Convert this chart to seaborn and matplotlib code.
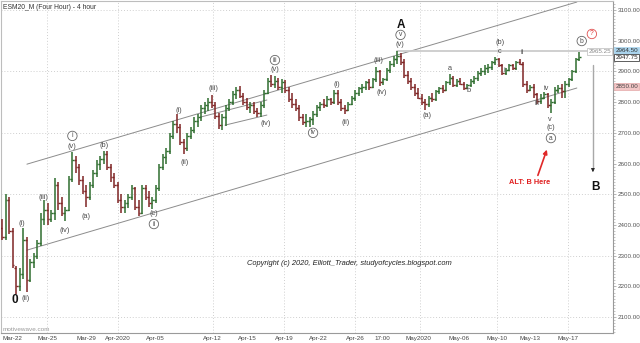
import matplotlib
matplotlib.use("Agg")
import matplotlib.pyplot as plt
import numpy as np
import pandas as pd
import seaborn as sns

# ---- ESM20 four-hour bars (price) ----
opens = [
    2390, 2360, 2480, 2380, 2260, 2200, 2240, 2350, 2220, 2280,
    2300, 2340, 2420, 2450, 2420, 2440, 2530, 2470, 2440, 2450,
    2550, 2610, 2590, 2545, 2510, 2490, 2530, 2570, 2600, 2615,
    2630, 2590, 2555, 2530, 2480, 2460, 2470, 2490, 2520, 2460,
    2440, 2520, 2490, 2470, 2480, 2520, 2590, 2620, 2640, 2690,
    2730, 2720, 2670, 2650, 2690, 2710, 2740, 2750, 2780, 2790,
    2800, 2790, 2755, 2725, 2750, 2780, 2800, 2825, 2840, 2820,
    2800, 2785, 2790, 2770, 2765, 2790, 2830, 2870, 2860, 2870,
    2850, 2865, 2840, 2810, 2795, 2780, 2750, 2735, 2740, 2745,
    2760, 2785, 2795, 2790, 2810, 2800, 2830, 2800, 2780, 2775,
    2795, 2815, 2830, 2845, 2850, 2865, 2850, 2875, 2900, 2865,
    2875, 2905, 2925, 2940, 2950, 2930, 2890, 2870, 2850, 2830,
    2815, 2800, 2795, 2815, 2810, 2835, 2845, 2840, 2865, 2880,
    2855, 2870, 2860, 2845, 2855, 2870, 2880, 2895, 2900, 2910,
    2915, 2930, 2940, 2920, 2895, 2905, 2920, 2910, 2930, 2925,
    2860, 2840, 2850, 2825, 2805, 2815, 2825, 2790, 2800, 2840,
    2845, 2835, 2860, 2875, 2900, 2940,
]
highs = [
    2420, 2500, 2490, 2390, 2265, 2260, 2390, 2360, 2290, 2310,
    2350, 2440, 2480, 2470, 2450, 2553, 2540, 2490, 2460, 2560,
    2637, 2625, 2600, 2560, 2530, 2540, 2580, 2610, 2625, 2642,
    2640, 2600, 2570, 2540, 2500, 2480, 2500, 2530, 2525, 2480,
    2530, 2530, 2510, 2490, 2530, 2600, 2630, 2650, 2700, 2740,
    2760, 2730, 2680, 2700, 2720, 2750, 2760, 2790, 2800, 2815,
    2823, 2800, 2765, 2760, 2790, 2810, 2835, 2850, 2852, 2830,
    2815, 2800, 2800, 2780, 2800, 2840, 2880, 2888, 2885, 2880,
    2875, 2872, 2850, 2830, 2810, 2790, 2760, 2760, 2750, 2770,
    2790, 2800, 2810, 2820, 2815, 2840, 2839, 2810, 2790, 2800,
    2820, 2840, 2850, 2860, 2870, 2875, 2880, 2914, 2905, 2880,
    2910, 2935, 2950, 2965.25, 2960, 2940, 2900, 2880, 2860, 2845,
    2825, 2810, 2820, 2830, 2840, 2850, 2855, 2870, 2892, 2885,
    2875, 2880, 2865, 2860, 2875, 2885, 2900, 2910, 2920, 2925,
    2935, 2947, 2945, 2925, 2910, 2925, 2925, 2935, 2940, 2930,
    2870, 2855, 2860, 2830, 2825, 2832, 2830, 2810, 2850, 2855,
    2860, 2870, 2880, 2905, 2945, 2964.5,
]
lows = [
    2350, 2350, 2370, 2260, 2176, 2185, 2225, 2182, 2215, 2260,
    2290, 2330, 2400, 2400, 2410, 2416, 2450, 2430, 2412, 2445,
    2540, 2570, 2530, 2500, 2458, 2480, 2520, 2555, 2580, 2600,
    2580, 2540, 2520, 2470, 2440, 2440, 2455, 2480, 2450, 2428,
    2435, 2480, 2460, 2452, 2470, 2510, 2580, 2600, 2630, 2680,
    2700, 2660, 2630, 2640, 2680, 2700, 2720, 2740, 2760, 2770,
    2780, 2745, 2712, 2710, 2722, 2770, 2790, 2810, 2815, 2790,
    2775, 2765, 2760, 2752, 2752, 2780, 2825, 2850, 2845, 2840,
    2830, 2830, 2800, 2780, 2770, 2740, 2725, 2720, 2719, 2725,
    2750, 2770, 2780, 2785, 2790, 2795, 2790, 2770, 2761, 2770,
    2790, 2805, 2820, 2830, 2840, 2840, 2845, 2865, 2852, 2855,
    2870, 2895, 2915, 2925, 2920, 2880, 2860, 2840, 2820, 2810,
    2790, 2776, 2785, 2800, 2805, 2825, 2830, 2835, 2855, 2850,
    2850, 2855, 2840, 2842, 2850, 2860, 2870, 2885, 2890, 2895,
    2905, 2920, 2915, 2890, 2890, 2900, 2905, 2905, 2920, 2850,
    2830, 2835, 2815, 2795, 2795, 2810, 2780, 2765, 2795, 2830,
    2813, 2815, 2850, 2870, 2895, 2935,
]
closes = [
    2360, 2480, 2380, 2270, 2200, 2240, 2350, 2220, 2280, 2300,
    2340, 2420, 2450, 2420, 2440, 2530, 2470, 2440, 2450, 2550,
    2610, 2590, 2545, 2510, 2490, 2530, 2570, 2600, 2615, 2630,
    2590, 2555, 2530, 2480, 2460, 2470, 2490, 2520, 2460, 2440,
    2520, 2490, 2470, 2480, 2520, 2590, 2620, 2640, 2690, 2730,
    2720, 2670, 2650, 2690, 2710, 2740, 2750, 2780, 2790, 2800,
    2790, 2755, 2725, 2750, 2780, 2800, 2825, 2840, 2820, 2800,
    2785, 2790, 2770, 2765, 2790, 2830, 2870, 2860, 2870, 2850,
    2865, 2840, 2810, 2795, 2780, 2750, 2735, 2740, 2745, 2760,
    2785, 2795, 2790, 2810, 2800, 2830, 2800, 2780, 2775, 2795,
    2815, 2830, 2845, 2850, 2865, 2850, 2875, 2900, 2865, 2875,
    2905, 2925, 2940, 2950, 2930, 2890, 2870, 2850, 2830, 2815,
    2800, 2795, 2815, 2810, 2835, 2845, 2840, 2865, 2880, 2855,
    2870, 2860, 2845, 2855, 2870, 2880, 2895, 2900, 2910, 2915,
    2930, 2940, 2920, 2895, 2905, 2920, 2910, 2930, 2925, 2860,
    2840, 2850, 2825, 2805, 2815, 2825, 2790, 2800, 2840, 2845,
    2835, 2860, 2875, 2900, 2940, 2947.75,
]

# date labels along the bar axis (bar number where each label sits)
date_labels = ["Mar-22", "Mar-25", "Mar-29", "Apr-2020", "Apr-05", "Apr-12", "Apr-15",
               "Apr-19", "Apr-22", "Apr-26", "17:00", "May2020", "May-06", "May-10",
               "May-13", "May-17"]
date_bars = [2.9, 12.9, 24, 33.1, 43.7, 60, 70, 80.6, 90.3, 100.9, 108.6, 118.9,
             130.6, 141.4, 150.9, 161.7]
week_grid_bars = [12.9, 33.1, 60.3, 80.6, 100.9, 119.4, 141.4, 161.7]

# price axis labels
price_ticks = [2100, 2200, 2300, 2400, 2500, 2600, 2700, 2800, 2900, 3000, 3100]
price_grid = [2100, 2300, 2500, 2700, 2900, 3100]

# main trend channel (two parallel lines)
channel_bars = [7.1, 164.3]
channel_upper = [2598, 3126]
channel_lower = [2318, 2846]

# small channel drawn on the wave (iv) correction
sub_upper_bars = [56.6, 75.7]
sub_upper = [2751, 2807]
sub_lower_bars = [63.7, 75.7]
sub_lower = [2725, 2758]

# Elliott wave labels: text, bar, price, kind
wave_text = ["0", "(i)", "(ii)", "(iii)", "(iv)", "(v)", "i", "(a)", "(b)", "(c)", "ii",
             "(i)", "(ii)", "(iii)", "(iv)", "(v)", "iii", "iv",
             "(i)", "(ii)", "(iii)", "(iv)", "(v)", "v", "A",
             "(a)", "a", "b", "(b)", "c", "i", "ii", "iii", "iv", "v", "(c)", "a",
             "b", "?"]
wave_bar = [3.7, 5.7, 6.6, 11.7, 18.0, 20.0, 20.1, 24.0, 29.1, 43.4, 43.4,
            50.6, 52.3, 60.3, 75.4, 78.0, 78.0, 88.9,
            95.7, 98.3, 107.7, 108.6, 113.7, 113.9, 114.0,
            121.4, 128.0, 133.4, 142.3, 142.3, 143.7, 148.6, 152.9, 155.4, 156.6, 156.9, 156.9,
            165.7, 168.6]
wave_price = [2156, 2406, 2159, 2491, 2383, 2657, 2690, 2426, 2660, 2436, 2403,
              2772, 2602, 2843, 2732, 2905, 2937, 2700,
              2859, 2735, 2934, 2830, 2987, 3019, 3051,
              2755, 2911, 2839, 2993, 2966, 2902, 2963, 2797, 2843, 2745, 2716, 2683,
              2999, 3022]
wave_kind = ["bold", "p", "p", "p", "p", "p", "c", "p", "p", "p", "c",
             "p", "p", "p", "p", "p", "c", "c",
             "p", "p", "p", "p", "p", "c", "bold",
             "p", "p", "p", "p", "p", "p", "p", "p", "p", "p", "p", "c",
             "c", "q"]

a_high = 2965.25
last_high = 2964.50
last_close = 2947.75
alert_level = 2850.00

UP = "#2f6e2f"
DOWN = "#7f2525"
LABEL = "#4a4a4a"
GRID = "#cfcfcf"

sns.set_theme(style="white")
plt.rcParams["font.family"] = ["Liberation Sans", "DejaVu Sans"]

fig = plt.figure(figsize=(6.4, 3.43), dpi=100)
ax = fig.add_axes([0.0016, 0.029, 0.956, 0.968])
ax.set_xlim(-0.3, 174.6)
ax.set_ylim(2048, 3129.3)

# grid
for g in price_grid:
    ax.axhline(g, color=GRID, lw=0.7, ls=(0, (1, 2)), zorder=0)
for g in week_grid_bars:
    ax.axvline(g, color=GRID, lw=0.7, ls=(0, (1, 2)), zorder=0)

# trend lines
lines = pd.DataFrame({
    "bar": channel_bars + channel_bars + sub_upper_bars + sub_lower_bars,
    "price": channel_upper + channel_lower + sub_upper + sub_lower,
    "name": ["up"] * 2 + ["low"] * 2 + ["sub_up"] * 2 + ["sub_low"] * 2,
})
sns.lineplot(data=lines, x="bar", y="price", units="name", estimator=None,
             color="#8c8c8c", lw=0.7, ax=ax, zorder=1)

# A-high level
n = len(closes)
sns.lineplot(x=[113, 168.0], y=[a_high, a_high], color="#cccccc", lw=1.3, ax=ax, zorder=1)

# OHLC bars
df = pd.DataFrame({"bar": np.arange(n), "open": opens, "high": highs,
                   "low": lows, "close": closes})
cols = np.where(df["close"] >= df["open"], UP, DOWN)
ax.vlines(df["bar"], df["low"], df["high"], colors=cols, lw=1.1, zorder=3)
ax.hlines(df["open"], df["bar"] - 0.55, df["bar"], colors=cols, lw=1.0, zorder=3)
ax.hlines(df["close"], df["bar"], df["bar"] + 0.55, colors=cols, lw=1.0, zorder=3)

# wave labels
for t, b, p, k in zip(wave_text, wave_bar, wave_price, wave_kind):
    if k == "bold":
        ax.text(b, p, t, ha="center", va="center", fontsize=8.5, fontweight="bold",
                color="#111111", zorder=5)
    elif k == "c":
        ax.text(b, p, t, ha="center", va="center", fontsize=4.8, color=LABEL, zorder=5,
                bbox=dict(boxstyle="circle,pad=0.18", fc="white", ec="#666666", lw=0.6))
    elif k == "q":
        ax.text(b, p, t, ha="center", va="center", fontsize=4.8, color="#e03030", zorder=5,
                bbox=dict(boxstyle="circle,pad=0.18", fc="white", ec="#e05050", lw=0.6))
    else:
        ax.text(b, p, t, ha="center", va="center", fontsize=5.3, color=LABEL, zorder=5)

# alternative-count annotation
ax.annotate("", xy=(156.0, 2654), xytext=(152.9, 2553),
            arrowprops=dict(arrowstyle="-|>", color="#e02828", lw=1.2, mutation_scale=6),
            zorder=5)
ax.text(150.9, 2537, "ALT: B Here", ha="center", va="center", fontsize=5.3,
        fontweight="bold", color="#e02020", zorder=5)

# projected B arrow
ax.plot([168.9, 168.9], [2921, 2585], color="#a8a8a8", lw=1.0, zorder=4)
ax.annotate("", xy=(168.9, 2572), xytext=(168.9, 2590),
            arrowprops=dict(arrowstyle="-|>", color="#222222", lw=0.6, mutation_scale=5),
            zorder=5)
ax.text(169.7, 2524, "B", ha="center", va="center", fontsize=8.5, fontweight="bold",
        color="#111111", zorder=5)

ax.text(99.4, 2276, "Copyright (c) 2020, Elliott_Trader, studyofcycles.blogspot.com",
        ha="center", va="center", fontsize=5.4, style="italic", color="#222222", zorder=5)

ax.text(0.004, 0.992, "ESM20_M (Four Hour) - 4 hour", transform=ax.transAxes,
        ha="left", va="top", fontsize=4.9, color="#333333")
ax.text(0.003, 0.004, "motivewave.com", transform=ax.transAxes,
        ha="left", va="bottom", fontsize=4.6, color="#9a9a9a")

# axes styling
for s in ["left", "top"]:
    ax.spines[s].set_color("#bdbdbd")
    ax.spines[s].set_linewidth(0.8)
for s in ["right", "bottom"]:
    ax.spines[s].set_color("#9a9a9a")
    ax.spines[s].set_linewidth(0.8)

ax.yaxis.tick_right()
ax.set_yticks(price_ticks)
ax.set_yticklabels([f"{v:.2f}" for v in price_ticks])
ax.set_yticks(np.arange(2050, 3130, 10), minor=True)
ax.tick_params(axis="y", which="major", labelsize=4.5, labelcolor="#555555", length=2.5,
               width=0.5, color="#9a9a9a", pad=1)
ax.tick_params(axis="y", which="minor", length=1.5, width=0.4, color="#9a9a9a")
ax.set_xticks(date_bars)
ax.set_xticklabels(date_labels)
ax.tick_params(axis="x", labelsize=4.5, labelcolor="#444444", length=1.5, width=0.5,
               color="#9a9a9a", pad=0.5)
ax.set_xlabel("")
ax.set_ylabel("")
ax.grid(False)

# price flags on the right scale
flag = dict(xycoords=("axes fraction", "data"), ha="left", va="center", fontsize=4.5,
            annotation_clip=False, zorder=6)
ax.annotate(f"{last_high:.2f}", xy=(1.004, last_high + 4), color="#333333",
            bbox=dict(boxstyle="square,pad=0.15", fc="#a9d3ec", ec="#a9d3ec", lw=0.5), **flag)
ax.annotate(f"{last_close:.2f}", xy=(1.004, last_close - 2), color="#222222",
            bbox=dict(boxstyle="square,pad=0.15", fc="white", ec="#444444", lw=0.6), **flag)
ax.annotate(f"{alert_level:.2f}", xy=(1.004, alert_level), color="#444444",
            bbox=dict(boxstyle="square,pad=0.15", fc="#f3c6c6", ec="#e4a8a8", lw=0.5), **flag)
ax.annotate(f"{a_high:.2f}", xy=(0.997, a_high), xycoords=("axes fraction", "data"),
            ha="right", va="center", fontsize=4.5, color="#8a8a8a", zorder=6,
            bbox=dict(boxstyle="square,pad=0.15", fc="white", ec="#bbbbbb", lw=0.5))

fig.savefig("out.png", dpi=100)
